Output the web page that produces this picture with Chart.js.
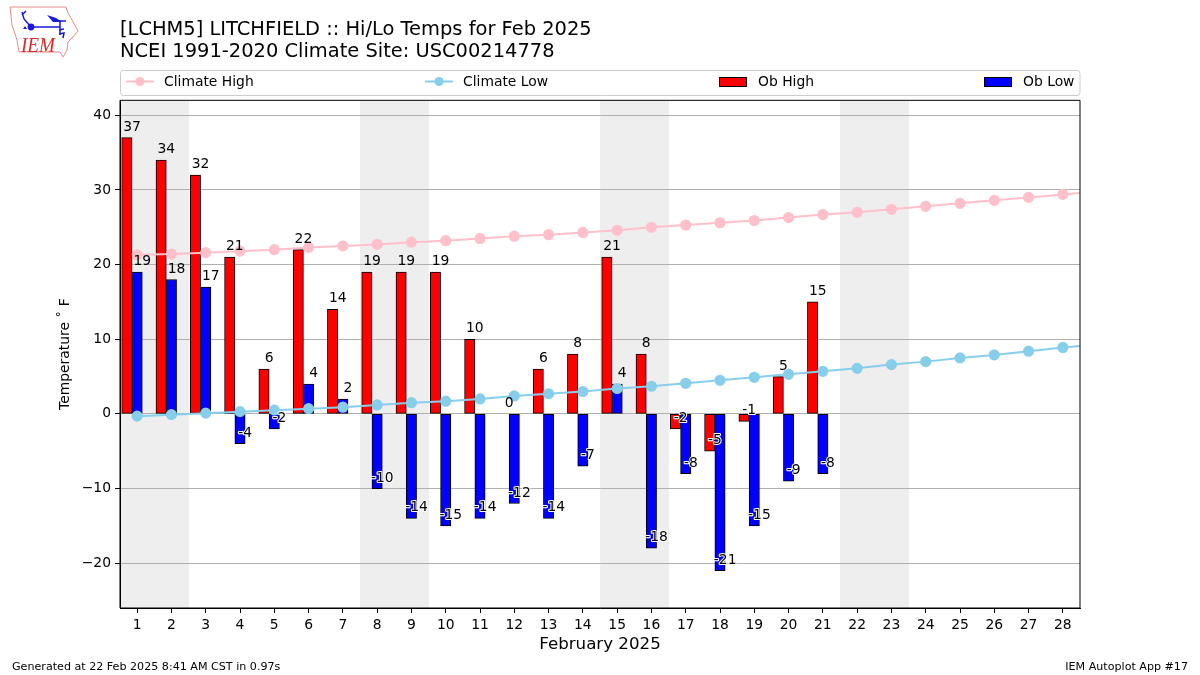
<!DOCTYPE html>
<html>
<head>
<meta charset="utf-8">
<title>Hi/Lo Temps for Feb 2025</title>
<script src="https://cdn.jsdelivr.net/npm/chart.js@4/dist/chart.umd.min.js"></script>
<style>
  html, body { margin: 0; padding: 0; background: #fff; }
  #wrap { position: relative; width: 1200px; height: 675px; overflow: hidden; font-family: "DejaVu Sans", sans-serif; }
  #chart { position: absolute; left: 0; top: 0; }
  #logo { position: absolute; left: 0; top: 0; }
  .foot { position: absolute; top: 660px; font-size: 11.11px; line-height: 13px; color: #000; white-space: nowrap; }
</style>
</head>
<body>
<div id="wrap">
  <canvas id="chart" width="1200" height="675"></canvas>
  <svg id="logo" width="90" height="65" viewBox="0 0 90 65">
    <path d="M10 7 L66 7 L68 13 L72 20 L78 31 L72 38 L68 42 L67 50 L63 57 L60 52 L19 52 L17 40 L12 25 Z" fill="#fff" stroke="#e58a8a" stroke-width="1"/>
    <g stroke="#1a1ad8" stroke-width="1.5" fill="none">
      <path d="M31 27 L60 27 M60 21 L60 35 M31 27 L24 19 L22 12 M22 15 L26 11 M55 21 L66 21"/>
      <path d="M59 30 L64 29 M59 34 L64 33 L63 38"/>
    </g>
    <path d="M23 29 L25 26 L27 29 Z" fill="#1a1ad8"/>
    <circle cx="31" cy="27" r="3.4" fill="#1a1ad8"/>
    <path d="M47 15 L56 18 L62 22 L53 22 Z" fill="#1a1ad8"/>
    <text x="21" y="52" font-family="Liberation Serif" font-style="italic" font-size="21" textLength="34" lengthAdjust="spacingAndGlyphs" fill="#d92b2b">IEM</text>
  </svg>
  <div class="foot" style="left:12px">Generated at 22 Feb 2025 8:41 AM CST in 0.97s</div>
  <div class="foot" style="right:12px">IEM Autoplot App #17</div>
</div>
<script>
var days = [1,2,3,4,5,6,7,8,9,10,11,12,13,14,15,16,17,18,19,20,21,22,23,24,25,26,27,28];
var weekendDays = [1,2,8,9,15,16,22,23];
var obHigh = [37,34,32,21,6,22,14,19,19,19,10,0,6,8,21,8,-2,-5,-1,5,15];
var obLow = [19,18,17,-4,-2,4,2,-10,-14,-15,-14,-12,-14,-7,4,-18,-8,-21,-15,-9,-8];
var climateHigh = [21.3,21.4,21.6,21.8,22.0,22.3,22.5,22.7,23.0,23.2,23.5,23.8,24.0,24.3,24.6,25.0,25.3,25.6,25.9,26.3,26.7,27.0,27.4,27.8,28.2,28.6,29.0,29.4,29.8];
var climateLow = [-0.3,-0.1,0.1,0.3,0.5,0.7,0.9,1.2,1.5,1.7,2.0,2.4,2.7,3.0,3.4,3.7,4.1,4.5,4.9,5.3,5.7,6.1,6.6,7.0,7.5,7.9,8.4,8.9,9.3];
var titleLines = ["[LCHM5] LITCHFIELD :: Hi/Lo Temps for Feb 2025", "NCEI 1991-2020 Climate Site: USC00214778"];

var FONT = '"DejaVu Sans", sans-serif';
var BAR_DAYS = 0.3; // bar width in days, highs sit one bar left of the lows

function points(vals, shift) {
  return vals.map(function (v, i) { return { x: i + 1 + shift, y: v }; });
}

// weekend shading, under the grid
var shading = {
  id: "shading",
  beforeDraw: function (chart) {
    var c = chart.ctx, a = chart.chartArea, x = chart.scales.x;
    c.save();
    c.fillStyle = "#eeeeee";
    weekendDays.forEach(function (d) {
      var l = Math.round(x.getPixelForValue(d - 0.5)), r = Math.round(x.getPixelForValue(d + 0.5));
      c.fillRect(l, a.top, r - l, a.bottom - a.top);
    });
    c.restore();
  }
};

// value labels, frame and the full width legend
var extras = {
  id: "extras",
  afterDraw: function (chart) {
    var c = chart.ctx, a = chart.chartArea, x = chart.scales.x, y = chart.scales.y;
    c.save();
    c.font = "13.89px " + FONT;
    c.textAlign = "center";
    c.textBaseline = "alphabetic";
    c.lineJoin = "round";
    function label(v, i, edge) {
      var px = x.getPixelForValue(i + 1 + edge), py = y.getPixelForValue(v + 1) + 0.5;
      if (v < 0) {
        c.strokeStyle = "#fff";
        c.lineWidth = 2;
        c.strokeText(String(v), px, py);
      }
      c.fillStyle = "#000";
      c.fillText(String(v), px, py);
    }
    obHigh.forEach(function (v, i) { label(v, i, -BAR_DAYS / 2); });
    obLow.forEach(function (v, i) { label(v, i, BAR_DAYS / 2); });

    c.strokeStyle = "#000";
    c.lineWidth = 1;
    c.strokeRect(a.left, a.top, a.right - a.left, a.bottom - a.top);

    // legend
    c.beginPath();
    c.roundRect(120.5, 70.5, 959.5, 25, 3);
    c.strokeStyle = "#cccccc";
    c.stroke();
    c.textAlign = "left";
    c.textBaseline = "middle";
    var slots = [126, 425, 719, 984];
    [0, 1, 2, 3].forEach(function (i) {
      var ds = chart.data.datasets[i], sx = slots[i];
      if (ds.type === "line") {
        c.strokeStyle = ds.borderColor;
        c.lineWidth = 2;
        c.beginPath();
        c.moveTo(sx, 81.5);
        c.lineTo(sx + 28, 81.5);
        c.stroke();
        c.fillStyle = ds.borderColor;
        c.beginPath();
        c.arc(sx + 14, 81.5, 4.6, 0, Math.PI * 2);
        c.fill();
      } else {
        c.fillStyle = ds.backgroundColor;
        c.fillRect(sx, 77, 28, 10);
        c.strokeStyle = "#000";
        c.lineWidth = 1;
        c.strokeRect(sx + 0.5, 77.5, 27, 9);
      }
      c.fillStyle = "#000";
      c.fillText(ds.label, sx + (ds.type === "line" ? 38 : 39), 82.5);
    });
    c.restore();
  }
};

new Chart(document.getElementById("chart"), {
  type: "bar",
  data: {
    datasets: [
      { type: "line", label: "Climate High", data: points(climateHigh, 0), borderColor: "#ffc0cb", backgroundColor: "#ffc0cb", borderWidth: 2, pointRadius: 4.6, pointHoverRadius: 4.6, tension: 0, order: 1 },
      { type: "line", label: "Climate Low", data: points(climateLow, 0), borderColor: "#87ceeb", backgroundColor: "#87ceeb", borderWidth: 2, pointRadius: 4.6, pointHoverRadius: 4.6, tension: 0, order: 0 },
      { type: "bar", label: "Ob High", data: points(obHigh, -BAR_DAYS), backgroundColor: "#ff0000", borderColor: "#000", borderWidth: 1, borderSkipped: false, grouped: false, barThickness: 10.3, order: 3 },
      { type: "bar", label: "Ob Low", data: points(obLow, 0), backgroundColor: "#0000ff", borderColor: "#000", borderWidth: 1, borderSkipped: false, grouped: false, barThickness: 10.3, order: 2 }
    ]
  },
  options: {
    responsive: false,
    animation: false,
    devicePixelRatio: 1,
    layout: { padding: { left: 57, right: 120, top: 0, bottom: 20 } },
    plugins: {
      legend: { display: false },
      tooltip: { enabled: false },
      title: {
        display: true,
        text: titleLines,
        align: "start",
        fullSize: false,
        color: "#000",
        font: { family: FONT, size: 19.44, weight: "normal", lineHeight: 1.14 },
        padding: { top: 19, bottom: 37 }
      }
    },
    scales: {
      x: {
        type: "linear",
        offset: false,
        min: 0.5,
        max: 28.5,
        grid: { offset: false, drawOnChartArea: false, tickColor: "#000", tickLength: 5 },
        border: { color: "#000" },
        afterBuildTicks: function (s) { s.ticks = days.map(function (d) { return { value: d }; }); },
        afterFit: function (s) { s.height = 47; },
        ticks: { color: "#000", font: { family: FONT, size: 13.89 }, padding: 4, autoSkip: false, maxRotation: 0, callback: function (v) { return String(v); } },
        title: { display: true, text: "February 2025", color: "#000", font: { family: FONT, size: 16.67 }, padding: 0 }
      },
      y: {
        min: -26,
        max: 42,
        grid: { color: "#b0b0b0", tickColor: "#000", tickLength: 5, lineWidth: 1 },
        border: { color: "#000" },
        afterFit: function (s) { s.width = 63; },
        ticks: {
          stepSize: 10,
          includeBounds: false,
          color: "#000",
          font: { family: FONT, size: 13.89 },
          padding: 4,
          callback: function (v) { return String(v).replace("-", "\u2212"); }
        },
        title: { display: true, text: "Temperature \u02DA F", color: "#000", font: { family: FONT, size: 13.89 }, padding: 0 }
      }
    }
  },
  plugins: [shading, extras]
});
</script>
</body>
</html>
